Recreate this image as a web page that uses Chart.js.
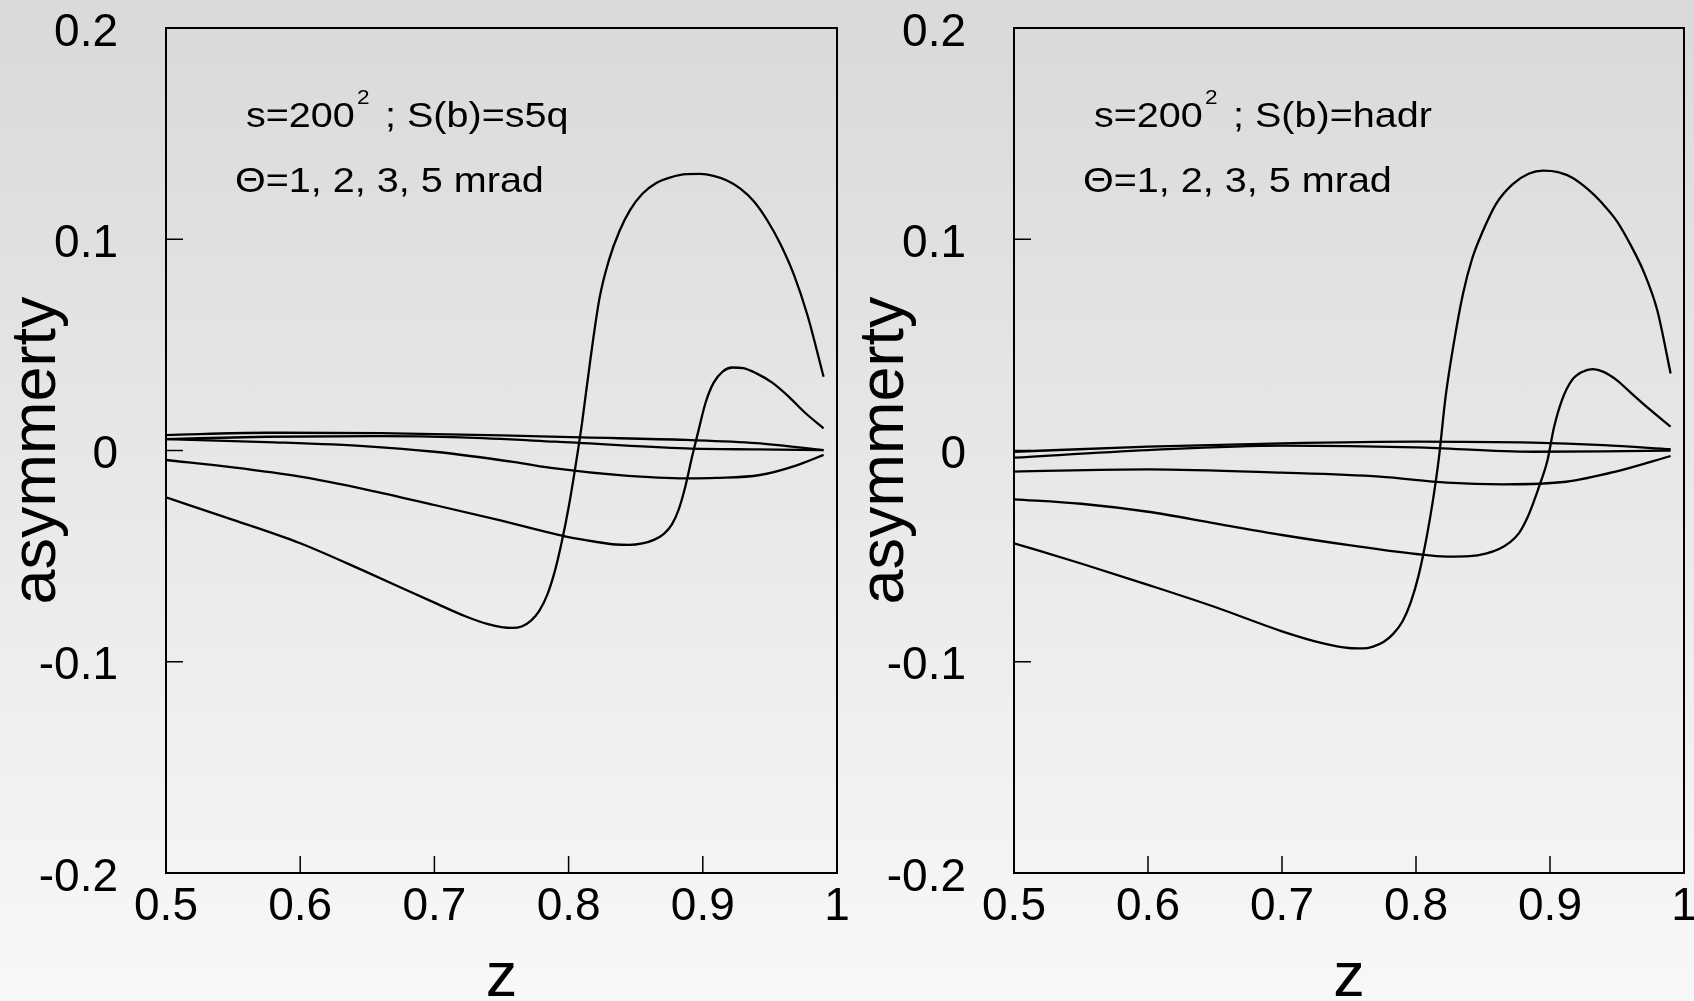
<!DOCTYPE html>
<html>
<head>
<meta charset="utf-8">
<script src="https://cdn.jsdelivr.net/npm/chart.js@4.4.0/dist/chart.umd.min.js"></script>
<style>
  html, body { margin: 0; padding: 0; }
  body {
    width: 1694px; height: 1001px; overflow: hidden; position: relative;
    background: linear-gradient(to bottom, #d9d9d9 0%, #f8f8f8 100%);
  }
  canvas { position: absolute; left: 0; top: 0; }
</style>
</head>
<body>
<canvas id="leftChart" width="1694" height="1001"></canvas>
<canvas id="rightChart" width="1694" height="1001"></canvas>
<script>
// axis ticks
const xTicks = [0.5, 0.6, 0.7, 0.8, 0.9, 1]
const yTicks = [-0.2, -0.1, 0, 0.1, 0.2]

// left panel, S(b)=s5q : z values and asymmetry for each curve
const leftZ1 = [0.5, 0.575, 0.66, 0.75, 0.81, 0.8875, 0.94, 0.99]
const leftA1 = [0.0073, 0.0084, 0.0082, 0.0072, 0.0062, 0.0050, 0.0035, 0.0002]
const leftZ2 = [0.5, 0.575, 0.66, 0.72, 0.79, 0.8875, 0.94, 0.99]
const leftA2 = [0.0054, 0.0065, 0.0068, 0.0062, 0.0042, 0.0010, 0.0005, 0.0002]
const leftZ3 = [0.5, 0.575, 0.65, 0.7, 0.76, 0.79, 0.84, 0.8875, 0.91, 0.9426, 0.97, 0.99]
const leftA3 = [0.0054, 0.0040, 0.0020, -0.0006, -0.0055, -0.0085, -0.0118, -0.0132, -0.0130, -0.0116, -0.0070, -0.0021]
const leftZ4 = [0.5, 0.55, 0.6, 0.65, 0.7, 0.75, 0.8, 0.82, 0.835, 0.845, 0.855, 0.864, 0.871, 0.877, 0.882, 0.887, 0.892, 0.897, 0.902, 0.908, 0.915, 0.922, 0.93, 0.94, 0.952, 0.964, 0.976, 0.99]
const leftA4 = [-0.0045, -0.0080, -0.0124, -0.0186, -0.0258, -0.0332, -0.0410, -0.0432, -0.0445, -0.0447, -0.0440, -0.0422, -0.0395, -0.0350, -0.0280, -0.0170, -0.0030, 0.0100, 0.0225, 0.0320, 0.0375, 0.0393, 0.0390, 0.0365, 0.0320, 0.0255, 0.0180, 0.0105]
const leftZ5 = [0.5, 0.55, 0.6, 0.65, 0.7, 0.724, 0.74, 0.75, 0.758, 0.765, 0.772, 0.778, 0.784, 0.79, 0.795, 0.8, 0.805, 0.81, 0.816, 0.823, 0.83, 0.838, 0.846, 0.855, 0.865, 0.876, 0.888, 0.898, 0.908, 0.918, 0.928, 0.938, 0.948, 0.958, 0.968, 0.978, 0.99]
const leftA5 = [-0.0222, -0.0328, -0.0439, -0.0577, -0.0720, -0.0787, -0.0822, -0.0836, -0.0840, -0.0833, -0.0805, -0.0760, -0.0685, -0.0565, -0.0430, -0.0270, -0.0080, 0.0130, 0.0420, 0.0720, 0.0900, 0.1040, 0.1140, 0.1215, 0.1265, 0.1293, 0.1308, 0.1309, 0.1300, 0.1278, 0.1240, 0.1180, 0.1090, 0.0975, 0.0830, 0.0640, 0.0349]

// right panel, S(b)=hadr
const rightZ1 = [0.5, 0.6, 0.7, 0.8, 0.887, 0.94, 0.99]
const rightA1 = [-0.0006, 0.0018, 0.0034, 0.0042, 0.0037, 0.0025, 0.0006]
const rightZ2 = [0.5, 0.6, 0.7, 0.8, 0.887, 0.94, 0.99]
const rightA2 = [-0.0034, 0.0002, 0.0023, 0.0015, -0.0006, -0.0004, 0.0000]
const rightZ3 = [0.5, 0.6, 0.7, 0.773, 0.823, 0.865, 0.912, 0.949, 0.99]
const rightA3 = [-0.0100, -0.0089, -0.0105, -0.0124, -0.0152, -0.0160, -0.0148, -0.0100, -0.0026]
const rightZ4 = [0.5, 0.55, 0.6, 0.65, 0.7, 0.75, 0.8, 0.823, 0.84, 0.852, 0.862, 0.87, 0.877, 0.883, 0.888, 0.893, 0.898, 0.903, 0.909, 0.916, 0.924, 0.932, 0.94, 0.95, 0.96, 0.97, 0.99]
const rightA4 = [-0.0231, -0.0252, -0.0290, -0.0345, -0.0400, -0.0448, -0.0490, -0.0502, -0.0500, -0.0488, -0.0466, -0.0435, -0.0390, -0.0320, -0.0240, -0.0150, -0.0050, 0.0110, 0.0240, 0.0330, 0.0372, 0.0385, 0.0372, 0.0332, 0.0275, 0.0218, 0.0113]
const rightZ5 = [0.5, 0.55, 0.6, 0.65, 0.7, 0.73, 0.75, 0.76, 0.768, 0.776, 0.783, 0.79, 0.796, 0.802, 0.808, 0.8127, 0.817, 0.822, 0.828, 0.835, 0.842, 0.85, 0.86, 0.872, 0.884, 0.895, 0.906, 0.917, 0.928, 0.939, 0.95, 0.96, 0.97, 0.98, 0.99]
const rightA5 = [-0.0439, -0.0535, -0.0636, -0.0741, -0.0856, -0.0912, -0.0935, -0.0937, -0.0928, -0.0905, -0.0868, -0.0808, -0.0720, -0.0590, -0.0408, -0.0234, -0.0040, 0.0250, 0.0500, 0.0740, 0.0910, 0.1040, 0.1170, 0.1260, 0.1310, 0.1325, 0.1318, 0.1290, 0.1238, 0.1170, 0.1085, 0.0975, 0.0845, 0.0665, 0.0365]

// texts inside the panels
const leftNote = ['s=200', '2', '; S(b)=s5q']
const rightNote = ['s=200', '2', '; S(b)=hadr']
const thetaNote = 'Θ=1, 2, 3, 5 mrad'

const fontFamily = "'Liberation Sans', Arial, Helvetica, sans-serif"

// text in the original is a bit wider than Liberation Sans
function wideText(ctx, text, x, y, size) {
    ctx.save()
    ctx.font = size + 'px ' + fontFamily
    ctx.textBaseline = 'alphabetic'
    ctx.textAlign = 'left'
    ctx.translate(x, y)
    ctx.scale(1.13, 1)
    ctx.fillText(text, 0, 0)
    ctx.restore()
}

// box round the plot, inward ticks, and the notes
const framePlugin = {
    id: 'frame',
    afterDatasetsDraw(chart, args, opts) {
        let {ctx, chartArea: a, scales} = chart
        ctx.save()
        ctx.strokeStyle = '#000'
        ctx.lineWidth = 2
        ctx.strokeRect(a.left, a.top, a.right - a.left, a.bottom - a.top)

        ctx.lineWidth = 1.5
        ctx.beginPath()
        scales.x.ticks.forEach(t => {
            let px = scales.x.getPixelForValue(t.value)
            ctx.moveTo(px, a.bottom)
            ctx.lineTo(px, a.bottom - 17)
        })
        scales.y.ticks.forEach(t => {
            let py = scales.y.getPixelForValue(t.value)
            ctx.moveTo(a.left, py)
            ctx.lineTo(a.left + 17, py)
        })
        ctx.stroke()

        ctx.fillStyle = '#000'
        let note = opts.note
        wideText(ctx, note[0], a.left + 80, a.top + 99, 35)
        wideText(ctx, note[1], a.left + 191, a.top + 76, 20)
        wideText(ctx, note[2], a.left + 219, a.top + 99, 35)
        wideText(ctx, thetaNote, a.left + 69, a.top + 164, 35)
        ctx.restore()
    }
}

function makeSeries(zs, as) {
    return {
        data: zs.map((z, i) => ({x: z, y: as[i]})),
        borderColor: '#000',
        borderWidth: 2.3,
        pointRadius: 0,
        fill: false,
        cubicInterpolationMode: 'monotone'
    }
}

function makeChart(id, series, note, padLeft, padRight) {
    return new Chart(document.getElementById(id), {
        type: 'line',
        data: {datasets: series},
        options: {
            responsive: false,
            animation: false,
            devicePixelRatio: 1,
            events: [],
            layout: {padding: {left: padLeft, right: padRight, top: 28, bottom: 0}},
            plugins: {
                legend: {display: false},
                tooltip: {enabled: false},
                frame: {note: note}
            },
            scales: {
                x: {
                    type: 'linear', min: 0.5, max: 1,
                    grid: {display: false, drawTicks: false},
                    border: {display: false},
                    afterBuildTicks: s => { s.ticks = xTicks.map(v => ({value: v})) },
                    afterFit: s => { s.height = 128; s.paddingLeft = 0; s.paddingRight = 0 },
                    ticks: {
                        color: '#000', padding: 7, maxRotation: 0, autoSkip: false,
                        font: {family: fontFamily, size: 46},
                        callback: v => String(+v.toFixed(1))
                    },
                    title: {
                        display: true, text: 'z', color: '#000',
                        font: {family: fontFamily, size: 63, lineHeight: 0.7},
                        padding: {top: 0, bottom: 0}
                    }
                },
                y: {
                    type: 'linear', min: -0.2, max: 0.2,
                    grid: {display: false, drawTicks: false},
                    border: {display: false},
                    afterBuildTicks: s => { s.ticks = yTicks.map(v => ({value: v})) },
                    afterFit: s => { s.width = 166; s.paddingTop = 0; s.paddingBottom = 0 },
                    ticks: {
                        color: '#000', padding: 48, labelOffset: 5, autoSkip: false,
                        font: {family: fontFamily, size: 46},
                        callback: v => String(+v.toFixed(1))
                    },
                    title: {
                        display: true, text: 'asymmerty', color: '#000',
                        font: {family: fontFamily, size: 63, lineHeight: 0.8},
                        padding: {top: 12, bottom: 0}
                    }
                }
            }
        },
        plugins: [framePlugin]
    })
}

let leftSeries = [
    makeSeries(leftZ1, leftA1), makeSeries(leftZ2, leftA2), makeSeries(leftZ3, leftA3),
    makeSeries(leftZ4, leftA4), makeSeries(leftZ5, leftA5)
]
let rightSeries = [
    makeSeries(rightZ1, rightA1), makeSeries(rightZ2, rightA2), makeSeries(rightZ3, rightA3),
    makeSeries(rightZ4, rightA4), makeSeries(rightZ5, rightA5)
]

makeChart('leftChart', leftSeries, leftNote, 0, 857)
makeChart('rightChart', rightSeries, rightNote, 848, 10)
</script>
</body>
</html>
